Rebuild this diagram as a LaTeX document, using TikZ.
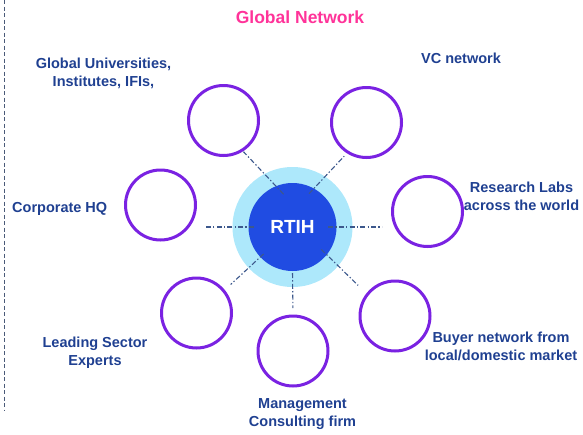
\documentclass[tikz,border=0pt]{standalone}
\usepackage{fontspec}
\setmainfont{Liberation Sans}
\definecolor{txtblue}{RGB}{31,64,145}
\definecolor{titlepink}{RGB}{255,51,153}
\definecolor{ringpurple}{RGB}{122,34,226}
\definecolor{lightring}{RGB}{173,232,251}
\definecolor{hubblue}{RGB}{32,76,226}
\definecolor{linkblue}{RGB}{60,88,140}
\definecolor{sideline}{RGB}{74,90,120}
\begin{document}
\begin{tikzpicture}[x=1pt,y=-1pt,
  member/.style={circle,draw=ringpurple,line width=3pt,minimum size=70pt,inner sep=0pt,outer sep=0pt},
  lbl/.style={text=txtblue,font=\bfseries\fontsize{14.5}{18}\selectfont,align=center,inner sep=0pt},
  link/.style={draw=linkblue,line width=1.1pt,dash pattern=on 5pt off 2.2pt on 1.4pt off 2.2pt}]
\useasboundingbox (0,0) rectangle (583,434);
\draw[sideline,line width=1pt,dash pattern=on 4pt off 2.5pt] (4.5,0) coordinate (s1) -- (4.5,411) coordinate (s2);
% hub
\node[circle,fill=lightring,minimum size=120pt,inner sep=0pt,outer sep=0pt] (ring) at (292.5,227) {};
\node[circle,fill=hubblue,minimum size=88pt,inner sep=0pt,outer sep=0pt,text=white,font=\bfseries\fontsize{19}{22}\selectfont] (hub) at (292.5,227) {RTIH};
% members
\node[member] (tl) at (223.5,120.5) {};
\node[member] (tr) at (366.5,122.5) {};
\node[member] (lf) at (160.5,205) {};
\node[member] (rt) at (427.5,211.5) {};
\node[member] (bl) at (196.5,313) {};
\node[member] (bm) at (293,351) {};
\node[member] (br) at (395,316) {};
% links
\draw[link,shorten <=-11pt,shorten >=2pt] (hub.112) -- (tl.-58);
\draw[link,shorten <=-7pt,shorten >=5.5pt] (hub.61) -- (tr.-122);
\draw[link,shorten <=-5.5pt,shorten >=10.5pt] (hub.180) -- (hub -| lf.east);
\draw[link,shorten <=-8.5pt,shorten >=10.5pt] (hub.0) -- (hub -| rt.west);
\draw[link,shorten <=-4.5pt,shorten >=9.5pt] (hub.-137) -- (bl.39);
\draw[link,shorten <=2pt,shorten >=8pt] (hub.-90) -- (bm.90);
\draw[link,shorten <=-7.5pt,shorten >=13pt] (hub.-39) -- (br.142);
% labels
\node[text=titlepink,font=\bfseries\fontsize{17.5}{20}\selectfont,inner sep=0pt] (title) at (300,17) {Global Network};
\node[lbl] (ltl) at (103.5,73) {Global Universities,\\Institutes, IFIs,};
\node[lbl] (ltr) at (461,58) {VC network};
\node[lbl,anchor=west] (llf) at (12,209) {Corporate HQ};
\node[lbl] (lrt) at (521.5,196) {Research Labs\\across the world};
\node[lbl] (lbl) at (95,353) {Leading Sector\\Experts};
\node[lbl] (lbm) at (302.5,414.5) {Management\\Consulting firm};
\node[lbl] (lbr) at (501,346) {Buyer network from\\local/domestic market};
\end{tikzpicture}
\end{document}
